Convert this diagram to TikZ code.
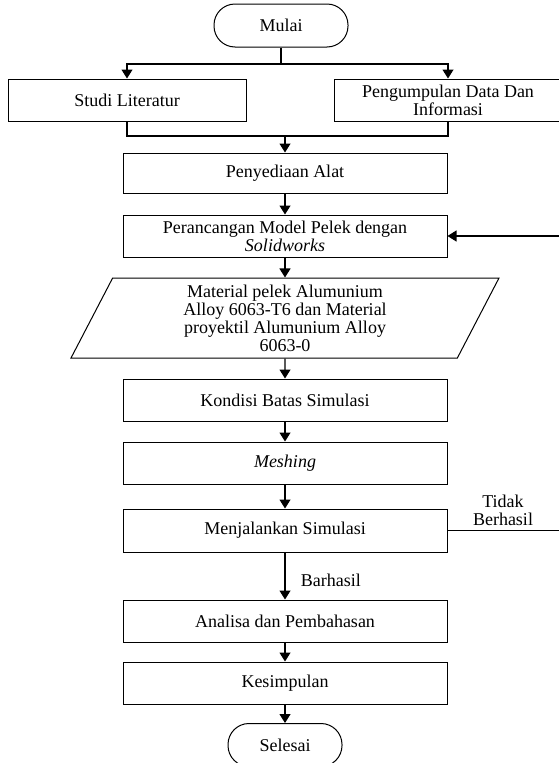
\documentclass[tikz,border=0pt]{standalone}
\usepackage{fontspec}
\setmainfont{Liberation Serif}
\usetikzlibrary{arrows.meta,shapes.geometric}

\begin{document}
\begin{tikzpicture}[x=1pt,y=-1pt,
  font=\fontsize{18}{18}\selectfont,
  box/.style={draw,line width=1pt,minimum width=324pt,minimum height=42pt,align=center,inner sep=2pt},
  term/.style={draw,line width=1pt,rounded corners=21pt,minimum height=43pt,align=center},
  data/.style={draw,line width=1pt,trapezium,trapezium left angle=58,trapezium right angle=122,trapezium stretches body,minimum width=428pt,minimum height=80pt,inner sep=0pt,align=center},
  arr/.style={line width=1.2pt,-{Triangle[length=9pt,width=11pt]}},
  line/.style={line width=1.2pt}]
  \useasboundingbox (0,0) rectangle (559,763);

  \node[term,minimum width=134pt] (mulai) at (281,25.5) {Mulai};
  \node[box,minimum width=238pt] (studi) at (127,100) {Studi Literatur};
  \node[box,minimum width=228pt] (kumpul) at (448,100) {Pengumpulan Data Dan\\Informasi};
  \node[box,minimum height=40pt] (alat) at (285,173) {Penyediaan Alat};
  \node[box] (rancang) at (285,236) {Perancangan Model Pelek dengan\\\textit{Solidworks}};
  \node[data] (material) at (285,318) {Material pelek Alumunium\\Alloy 6063-T6 dan Material\\proyektil Alumunium Alloy\\6063-0};
  \node[box] (kondisi) at (285,400) {Kondisi Batas Simulasi};
  \node[box] (mesh) at (285,463) {\textit{Meshing}};
  \node[box,minimum height=43pt] (jalan) at (285,530.5) {Menjalankan Simulasi};
  \node[box] (analisa) at (285,621) {Analisa dan Pembahasan};
  \node[box] (simpul) at (285,683) {Kesimpulan};
  \node[term,minimum width=114pt] (selesai) at (285,745) {Selesai};

  \coordinate (split) at (281,64);
  \coordinate (join) at (285,136);
  \coordinate (back) at (562,236);

  \draw[line] (mulai) -- (split);
  \draw[arr] (split) -| (studi);
  \draw[arr] (split) -| (kumpul);
  \draw[line] (studi) |- (join);
  \draw[line] (kumpul) |- (join);
  \draw[arr] (join) -- (alat);
  \draw[arr] (alat) -- (rancang);
  \draw[arr] (rancang) -- (material);
  \draw[arr] (material) -- (kondisi);
  \draw[arr] (kondisi) -- (mesh);
  \draw[arr] (mesh) -- (jalan);
  \draw[arr] (jalan) -- node[pos=0.6,right=12pt] {Barhasil} (analisa);
  \draw[arr] (analisa) -- (simpul);
  \draw[arr] (simpul) -- (selesai);
  \draw[arr] (jalan) -| (back) -- (rancang);
  \node[align=center,above,inner sep=1pt] (gagal) at (503,527) {Tidak\\Berhasil};
\end{tikzpicture}
\end{document}
